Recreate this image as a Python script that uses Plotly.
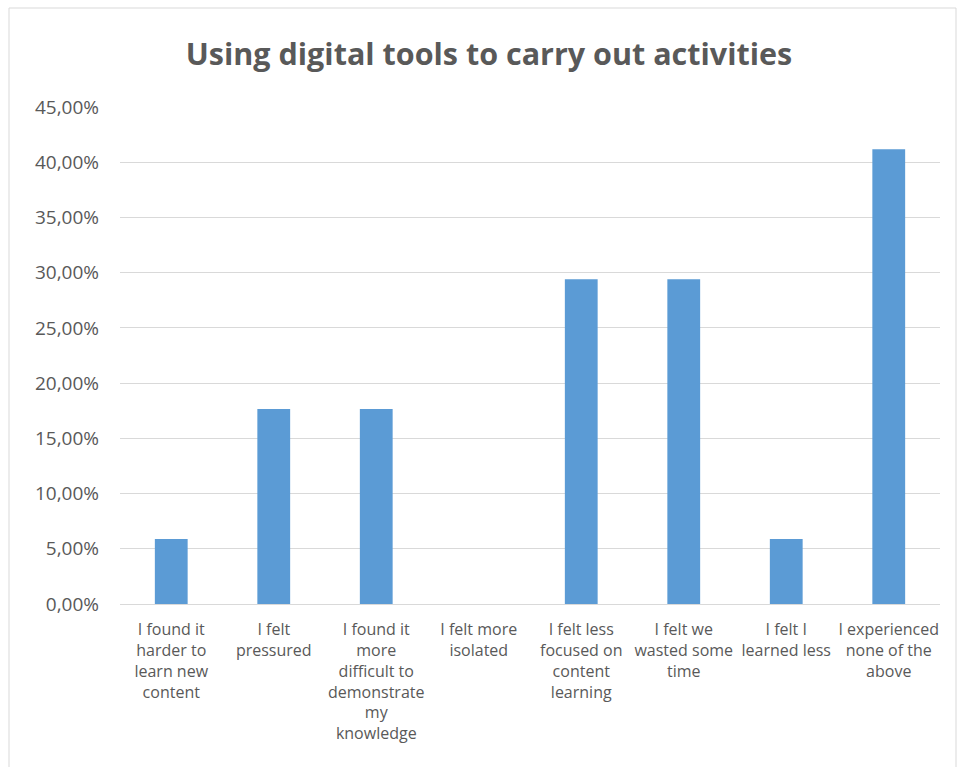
import plotly.graph_objects as go

categories = [
    "I found it<br>harder to<br>learn new<br>content",
    "I felt<br>pressured",
    "I found it<br>more<br>difficult to<br>demonstrate<br>my<br>knowledge",
    "I felt more<br>isolated",
    "I felt less<br>focused on<br>content<br>learning",
    "I felt we<br>wasted some<br>time",
    "I felt I<br>learned less",
    "I experienced<br>none of the<br>above",
]
values = [5.88, 17.65, 17.65, 0.0, 29.41, 29.41, 5.88, 41.18]
y_tickvals = [0, 5, 10, 15, 20, 25, 30, 35, 40, 45]
y_ticktext = ["0,00%", "5,00%", "10,00%", "15,00%", "20,00%", "25,00%",
              "30,00%", "35,00%", "40,00%", "45,00%"]
title_text = "Using digital tools to carry out activities"

W, H = 958, 767
L, R, T, B = 120, 18, 107, 163
pw, ph = W - L - R, H - T - B

def px_x(p):
    return (p - L) / pw

def px_y(p):
    return (H - B - p) / ph

font_family = "Open Sans, Lato, sans-serif"
text_color = "#595959"

fig = go.Figure(go.Bar(
    x=categories, y=values,
    marker=dict(color="#5B9BD5", line=dict(width=0)),
    width=0.32,
))

fig.update_layout(
    width=W, height=H,
    margin=dict(l=L, r=R, t=T, b=B, autoexpand=False),
    paper_bgcolor="white", plot_bgcolor="white",
    showlegend=False,
    title=dict(text=f"<b>{title_text}</b>", x=489 / W, xanchor="center",
               y=1 - 54 / H, yanchor="middle",
               font=dict(family=font_family, size=30.5, color=text_color)),
    font=dict(family=font_family, color=text_color),
    shapes=[dict(type="rect", xref="paper", yref="paper",
                 x0=px_x(9), x1=px_x(956), y0=px_y(8), y1=px_y(780),
                 line=dict(color="#D9D9D9", width=1), fillcolor="rgba(0,0,0,0)",
                 layer="below")],
)

fig.update_yaxes(range=[0, 45], tickvals=y_tickvals, ticktext=y_ticktext,
                 showgrid=True, gridcolor="#D9D9D9", gridwidth=1,
                 zeroline=False, showline=False, ticks="",
                 tickfont=dict(family=font_family, size=19, color=text_color),
                 ticklabelstandoff=20)
fig.update_xaxes(showgrid=False, showline=True, linecolor="#D9D9D9", linewidth=1,
                 ticks="", tickangle=0, ticklabelstandoff=11,
                 tickfont=dict(family=font_family, size=16, color=text_color))

fig.write_html("out.html")
